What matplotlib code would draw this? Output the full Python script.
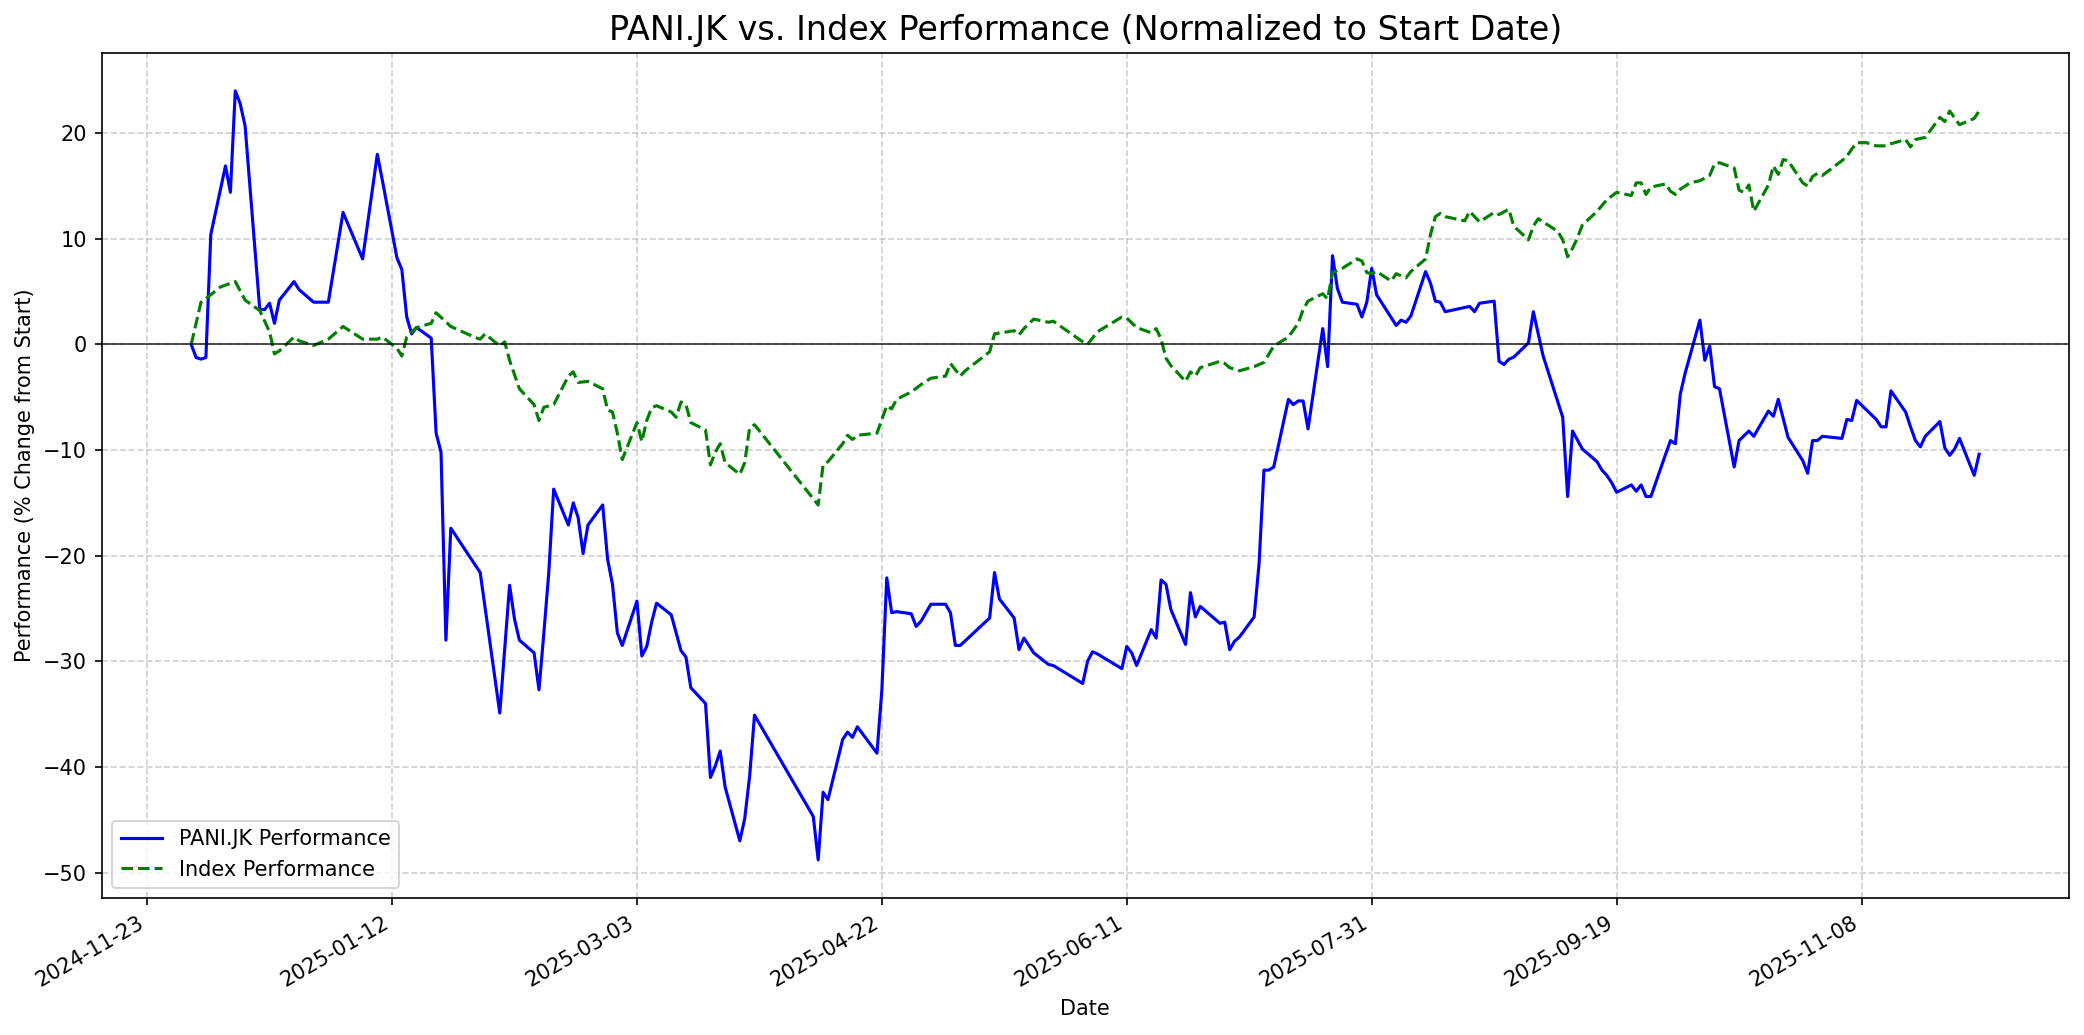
import matplotlib
matplotlib.use("Agg")
import matplotlib.pyplot as plt
import matplotlib.dates as mdates
from matplotlib.ticker import MultipleLocator
import pandas as pd

# Day offsets relative to 2025-01-12 and % change values
base_date = "2025-01-12"

pani_days = [-41, -40, -39, -38, -37, -34, -33, -32, -31, -30, -27, -26, -25, -24, -23,
             -20, -19, -16, -13, -10, -6, -3, -2, 1, 2, 3, 4, 5, 8, 9, 10, 11, 12, 18,
             22, 24, 25, 26, 29, 30, 31, 32, 33, 36, 37, 38, 39, 40, 43, 44, 45, 46, 47,
             50, 51, 52, 53, 54, 57, 59, 60, 61, 64, 65, 66, 67, 68, 71, 72, 73, 74,
             86, 87, 88, 89, 92, 93, 94, 95, 99, 100, 101, 102, 103, 106, 107, 108, 110,
             113, 114, 115, 116, 122, 123, 124, 127, 128, 129, 131, 134, 135, 141, 142,
             143, 144, 149, 150, 151, 152, 155, 156, 157, 158, 159, 162, 163, 164, 165,
             169, 170, 171, 172, 173, 176, 177, 178, 179, 180, 183, 184, 185, 186, 187,
             190, 191, 192, 193, 194, 197, 198, 199, 200, 201, 205, 206, 207, 208, 211,
             212, 213, 214, 215, 218, 220, 221, 222, 225, 226, 227, 228, 229, 232, 233,
             234, 235, 239, 240, 241, 243, 246, 247, 248, 249, 250, 253, 254, 255, 256,
             257, 260, 261, 262, 263, 264, 267, 268, 269, 270, 271, 274, 275, 277, 278,
             281, 282, 283, 285, 288, 289, 290, 291, 292, 296, 297, 298, 299, 303, 304,
             305, 306, 309, 310, 311, 312, 313, 316, 317, 318, 319, 320, 323, 324]
pani_perf = [0, -1.24, -1.39, -1.24, 10.4, 16.9, 14.4, 24.0, 22.8, 20.7, 3.3, 3.3, 3.9, 2.0, 4.2,
             5.95, 5.2, 4.0, 4.0, 12.5, 8.1, 18.0, 15.6, 8.2, 7.1, 2.6, 1.0, 1.6, 0.6, -8.4, -10.2, -28.0, -17.4, -21.6,
             -34.9, -22.8, -26.0, -28.0, -29.2, -32.7, -27.3, -21.6, -13.7, -17.1, -15.0, -16.4, -19.8, -17.1, -15.2, -20.3, -22.7, -27.3, -28.5,
             -24.3, -29.5, -28.6, -26.3, -24.5, -25.6, -29.0, -29.6, -32.5, -34.0, -41.0, -39.9, -38.5, -41.9, -47.0, -44.9, -40.9, -35.1,
             -44.7, -48.8, -42.4, -43.1, -37.4, -36.7, -37.2, -36.2, -38.7, -32.7, -22.1, -25.4, -25.3, -25.5, -26.7, -26.2, -24.6,
             -24.6, -25.4, -28.5, -28.5, -25.9, -21.6, -24.1, -25.9, -28.9, -27.8, -29.2, -30.3, -30.4, -32.1, -30.0,
             -29.1, -29.3, -30.7, -28.6, -29.2, -30.4, -27.0, -27.8, -22.3, -22.7, -25.1, -28.4, -23.5, -25.8, -24.8,
             -26.4, -26.3, -28.9, -28.1, -27.7, -25.8, -20.8, -11.9, -11.9, -11.6, -5.2, -5.7, -5.35, -5.35, -8.0,
             1.5, -2.1, 8.4, 5.3, 4.0, 3.8, 2.6, 4.0, 7.2, 4.7, 1.8, 2.3, 2.1, 2.7, 6.9,
             5.8, 4.1, 4.0, 3.1, 3.4, 3.6, 3.1, 3.9, 4.1, -1.6, -1.9, -1.4, -1.2, 0.15, 3.1,
             1.0, -1.1, -6.9, -14.4, -8.2, -9.9, -11.1, -11.9, -12.4, -13.1, -14.0, -13.3, -13.9, -13.3, -14.4,
             -14.4, -10.4, -9.1, -9.4, -4.7, -2.7, 2.3, -1.5, -0.15, -4.0, -4.2, -11.6, -9.1, -8.2, -8.7,
             -6.3, -6.8, -5.2, -8.8, -11.0, -12.2, -9.1, -9.1, -8.7, -8.9, -7.1, -7.2, -5.3, -7.1, -7.8,
             -7.8, -4.4, -6.4, -7.8, -9.1, -9.7, -8.7, -7.3, -9.8, -10.5, -9.9, -8.9, -12.4, -10.4]

index_days = [-41, -39, -37, -35, -32, -30, -27, -25, -24, -23, -20, -19, -16, -13, -10, -6, -3, -2,
              1, 2, 3, 5, 8, 9, 12, 17, 18, 19, 22, 23, 24, 26, 29, 30, 31, 33, 36, 37, 38, 40,
              43, 44, 45, 46, 47, 50, 51, 52, 53, 54, 57, 58, 59, 60, 61, 64, 65, 66, 67, 68,
              71, 72, 73, 74, 87, 88, 89, 92, 93, 94, 95, 99, 101, 102, 103, 106, 108, 110,
              113, 114, 116, 117, 122, 123, 127, 128, 129, 131, 134, 135, 141, 142, 144, 149,
              150, 152, 155, 156, 157, 158, 159, 162, 163, 164, 165, 169, 170, 171, 173, 176,
              178, 180, 183, 185, 186, 187, 190, 191, 192, 194, 197, 198, 199, 200, 201, 204,
              205, 207, 208, 211, 212, 213, 214, 215, 219, 220, 221, 222, 225, 226, 228, 229,
              232, 233, 234, 238, 239, 240, 241, 242, 243, 246, 248, 250, 253, 254, 255, 256,
              257, 260, 261, 262, 263, 265, 267, 269, 270, 271, 274, 275, 276, 277, 278, 281,
              282, 283, 284, 285, 288, 289, 290, 291, 292, 296, 297, 298, 299, 301, 303, 305,
              306, 309, 310, 311, 313, 316, 317, 318, 320, 323, 324]
index_perf = [0, 4.0, 4.7, 5.45, 5.95, 4.2, 3.2, 1.2, -0.9, -0.6, 0.7, 0.35, -0.1, 0.5, 1.7, 0.5, 0.5, 0.7,
              -0.35, -1.1, 0.7, 1.6, 2.0, 3.0, 1.7, 0.65, 0.5, 1.0, -0.15, 0.25, -1.5, -4.2, -5.7, -7.2, -5.95, -5.7, -3.0, -2.6, -3.6, -3.5,
              -4.2, -6.2, -6.4, -8.4, -10.9, -7.4, -9.2, -7.2, -6.0, -5.8, -6.4, -6.9, -5.45, -5.7, -7.4, -8.1, -11.4, -10.2, -9.4, -11.2,
              -12.3, -11.2, -7.9, -7.6, -15.2, -11.4, -11.1, -9.4, -8.6, -9.0, -8.6, -8.4, -5.8, -6.1, -5.2, -4.5, -3.8, -3.2,
              -3.0, -1.8, -3.0, -2.5, -0.7, 1.0, 1.3, 0.9, 1.5, 2.4, 2.1, 2.2, 0.25, 0, 1.2, 2.6,
              2.5, 1.6, 1.1, 1.5, 0.5, -1.3, -2.0, -3.5, -2.6, -3.0, -2.2, -1.6, -1.8, -2.2, -2.5, -2.1,
              -1.7, -0.15, 0.7, 2.0, 3.3, 4.1, 4.8, 4.3, 6.8, 7.2, 8.1, 7.9, 6.8, 6.7, 6.9, 6.0,
              6.7, 6.3, 6.9, 8.1, 10.4, 12.1, 12.4, 12.1, 11.7, 12.6, 12.1, 11.6, 12.5, 12.3, 12.8, 11.2,
              9.9, 11.2, 11.9, 10.7, 9.9, 8.3, 9.1, 10.1, 11.3, 12.6, 13.7, 14.4, 14.1, 15.3, 15.3, 14.2,
              14.9, 15.2, 14.5, 14.2, 14.7, 15.3, 15.5, 16.0, 17.1, 17.2, 16.7, 14.6, 14.4, 15.1, 12.6, 15.1,
              16.9, 16.1, 17.5, 17.4, 15.3, 15.0, 15.9, 16.2, 16.0, 17.4, 17.8, 18.5, 19.1, 19.1, 18.8, 18.8,
              19.0, 19.4, 18.7, 19.4, 19.6, 21.5, 21.1, 22.1, 20.8, 21.4, 22.1]

title = "PANI.JK vs. Index Performance (Normalized to Start Date)"
series_labels = ["PANI.JK Performance", "Index Performance"]

base = pd.Timestamp(base_date)
pani_dates = base + pd.to_timedelta(pani_days, unit="D")
index_dates = base + pd.to_timedelta(index_days, unit="D")

W, H, DPI = 2084, 1035, 150
fig = plt.figure(figsize=(W / DPI, H / DPI), dpi=DPI)
ax = fig.add_subplot(111)
fig.subplots_adjust(left=101.8 / W, right=2068.5 / W, top=1 - 52.5 / H, bottom=1 - 898.3 / H)

ax.plot(pani_dates, pani_perf, color="blue", linewidth=1.5, label=series_labels[0])
ax.plot(index_dates, index_perf, color="green", linestyle="--", linewidth=1.5, label=series_labels[1])
ax.axhline(0, color="black", linewidth=0.8, alpha=0.8)

ax.set_title(title, fontsize=16)
ax.set_xlabel("Date")
ax.set_ylabel("Performance (% Change from Start)")
ax.grid(True, linestyle="--", alpha=0.6)
ax.legend(loc="lower left")

ax.xaxis.set_major_locator(MultipleLocator(50))
ax.xaxis.set_major_formatter(mdates.DateFormatter("%Y-%m-%d"))
for lbl in ax.get_xticklabels():
    lbl.set_rotation(30)
    lbl.set_ha("right")

fig.savefig("out.png", dpi=DPI)
